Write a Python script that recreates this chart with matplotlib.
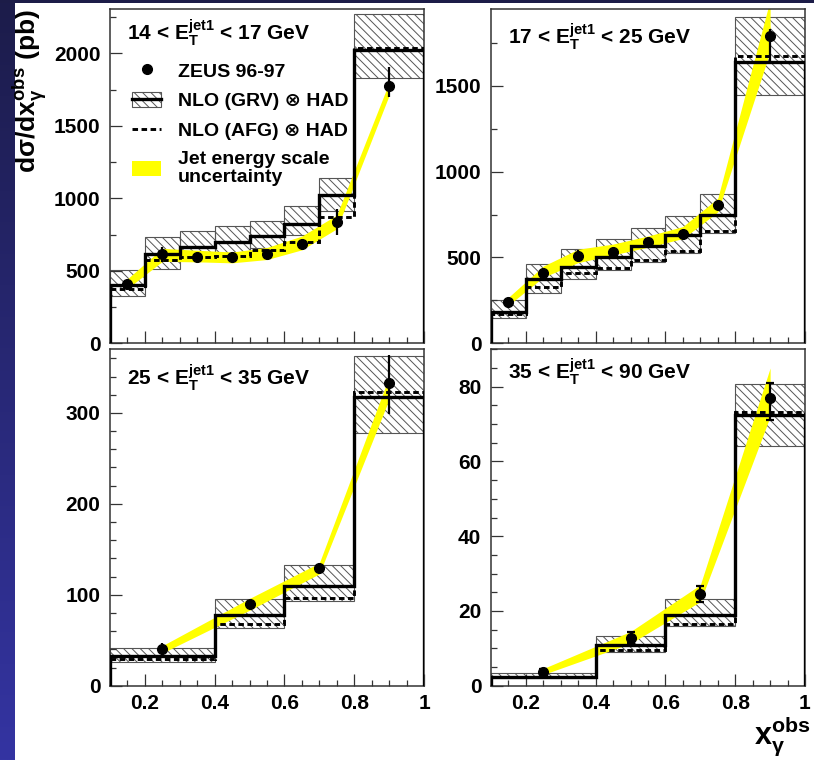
import matplotlib
matplotlib.use('Agg')
import matplotlib.pyplot as plt
import numpy as np
from matplotlib.lines import Line2D
from matplotlib.patches import Patch, Rectangle
from matplotlib.ticker import MultipleLocator, FuncFormatter
from matplotlib.colors import LinearSegmentedColormap

plt.rcParams['font.family'] = ['Liberation Sans', 'DejaVu Sans']
plt.rcParams['font.weight'] = 'bold'
plt.rcParams['mathtext.fontset'] = 'custom'
plt.rcParams['mathtext.rm'] = 'Liberation Sans:bold'
plt.rcParams['mathtext.it'] = 'Liberation Sans:bold'
plt.rcParams['mathtext.bf'] = 'Liberation Sans:bold'
plt.rcParams['mathtext.sf'] = 'Liberation Sans:bold'
plt.rcParams['hatch.linewidth'] = 0.7

# ---------------- data ----------------
edges_fine = [0.1, 0.2, 0.3, 0.4, 0.5, 0.6, 0.7, 0.8, 1.0]
edges_coarse = [0.1, 0.4, 0.6, 0.8, 1.0]
x_fine = [0.15, 0.25, 0.35, 0.45, 0.55, 0.65, 0.75, 0.9]
x_coarse = [0.25, 0.5, 0.7, 0.9]

# 14 < ET < 17 GeV
p1_grv = [405, 615, 662, 700, 741, 826, 1021, 2025]
p1_grv_lo = [323, 516, 575, 619, 658, 745, 915, 1831]
p1_grv_hi = [509, 736, 773, 809, 844, 947, 1141, 2275]
p1_afg = [378, 573, 592, 600, 642, 699, 871, 2035]
p1_data = [408, 614, 596, 592, 614, 688, 835, 1778]
p1_err_lo = [20, 50, 25, 20, 25, 30, 90, 80]
p1_err_hi = [20, 50, 25, 20, 25, 30, 90, 130]
p1_jes_lo = [378, 565, 562, 555, 578, 645, 790, 1710]
p1_jes_hi = [445, 655, 642, 630, 661, 740, 885, 1800]

# 17 < ET < 25 GeV
p2_grv = [184, 372, 445, 500, 566, 630, 746, 1641]
p2_grv_lo = [145, 291, 372, 426, 474, 527, 643, 1444]
p2_grv_hi = [252, 461, 548, 610, 672, 742, 868, 1899]
p2_afg = [170, 326, 407, 436, 488, 538, 655, 1676]
p2_data = [242, 411, 509, 533, 591, 636, 804, 1787]
p2_err_lo = [15, 25, 35, 20, 20, 20, 30, 150]
p2_err_hi = [15, 25, 35, 20, 20, 20, 30, 45]
p2_jes_lo = [222, 385, 470, 515, 560, 610, 765, 1700]
p2_jes_hi = [268, 450, 548, 578, 625, 680, 845, 2000]

# 25 < ET < 35 GeV
p3_grv = [32.6, 77.6, 109.8, 317]
p3_grv_lo = [26, 64, 93, 278]
p3_grv_hi = [42, 95, 132.5, 363]
p3_afg = [29, 67.7, 97, 323.5]
p3_data = [40, 90.4, 130, 332.6]
p3_err_lo = [7, 3, 3, 34]
p3_err_hi = [7, 3, 3, 31]
p3_jes_lo = [36, 83, 123, 315]
p3_jes_hi = [44, 96, 135, 340]

# 35 < ET < 90 GeV
p4_grv = [2.4, 10.85, 19.0, 72.4]
p4_grv_lo = [2.0, 8.9, 16.0, 64.2]
p4_grv_hi = [3.5, 13.25, 23.1, 80.8]
p4_afg = [2.2, 9.5, 16.6, 73.3]
p4_data = [3.7, 12.8, 24.6, 77.0]
p4_err_lo = [0.8, 1.5, 2.2, 6]
p4_err_hi = [0.8, 1.5, 2.2, 4]
p4_jes_lo = [3.0, 11.3, 22.5, 72]
p4_jes_hi = [4.6, 14.5, 27.0, 85]

titles = [r'14 < $\mathrm{E}_\mathrm{T}^\mathrm{jet1}$ < 17 GeV',
          r'17 < $\mathrm{E}_\mathrm{T}^\mathrm{jet1}$ < 25 GeV',
          r'25 < $\mathrm{E}_\mathrm{T}^\mathrm{jet1}$ < 35 GeV',
          r'35 < $\mathrm{E}_\mathrm{T}^\mathrm{jet1}$ < 90 GeV']
ylims = [2310, 1950, 370, 90]
ymajor = [500, 500, 100, 20]
yminor = [250, 250, 20, 5]

panels = [
    (edges_fine, x_fine, p1_grv, p1_grv_lo, p1_grv_hi, p1_afg, p1_data, p1_err_lo, p1_err_hi, p1_jes_lo, p1_jes_hi),
    (edges_fine, x_fine, p2_grv, p2_grv_lo, p2_grv_hi, p2_afg, p2_data, p2_err_lo, p2_err_hi, p2_jes_lo, p2_jes_hi),
    (edges_coarse, x_coarse, p3_grv, p3_grv_lo, p3_grv_hi, p3_afg, p3_data, p3_err_lo, p3_err_hi, p3_jes_lo, p3_jes_hi),
    (edges_coarse, x_coarse, p4_grv, p4_grv_lo, p4_grv_hi, p4_afg, p4_data, p4_err_lo, p4_err_hi, p4_jes_lo, p4_jes_hi),
]

# ---------------- figure ----------------
W, H = 814, 760
fig = plt.figure(figsize=(W / 100, H / 100), dpi=100)
fig.patch.set_facecolor('white')

# background decoration (blue strips)
bg = fig.add_axes([0, 0, 15 / W, 1], zorder=-10)
cmap = LinearSegmentedColormap.from_list('bgc', ['#3434a2', '#1c1c4a'])
bg.imshow(np.linspace(0, 1, 256)[:, None], aspect='auto', cmap=cmap,
          origin='lower', extent=[0, 1, 0, 1])
bg.axis('off')
fig.patches.append(Rectangle((0, 1 - 2.5 / H), 1, 2.5 / H, transform=fig.transFigure,
                             facecolor='#1c1c48', edgecolor='none', zorder=-9))

lefts = [110, 491, 110, 491]
tops = [8.5, 8.5, 349.3, 349.3]
bottoms = [343.3, 343.3, 685.7, 685.7]
aw = 314
title_y = [0.905, 0.895, 0.893, 0.913]

hatch = '\\\\\\\\'
hatch_col = '#555555'
dash = (0, (1.9, 1.2))

axes = []
for i, (edges, xc, grv, glo, ghi, afg, dat, elo, ehi, jlo, jhi) in enumerate(panels):
    ax = fig.add_axes([lefts[i] / W, 1 - bottoms[i] / H, aw / W, (bottoms[i] - tops[i]) / H])
    axes.append(ax)
    edges = np.array(edges)
    widths = np.diff(edges)
    ghi_a = np.array(ghi)
    glo_a = np.array(glo)
    ax.bar(edges[:-1], ghi_a - glo_a, bottom=glo_a, width=widths, align='edge',
           fill=False, hatch=hatch, edgecolor=hatch_col, linewidth=0.8, zorder=1)
    ax.fill_between(xc, jlo, jhi, color='#ffff00', linewidth=0, zorder=2)
    ax.stairs(grv, edges, baseline=0, color='black', linewidth=2.4, zorder=3)
    ax.stairs(afg, edges, baseline=0, color='black', linewidth=2.1, linestyle=dash, zorder=3)
    ax.errorbar(xc, dat, yerr=[elo, ehi], fmt='o', color='black', markersize=7,
                elinewidth=1.6, capsize=(3 if i == 3 else 0), capthick=1.6, zorder=4)

    ax.set_xlim(0.1, 1.0)
    ax.set_ylim(0, ylims[i])
    ax.xaxis.set_major_locator(MultipleLocator(0.2))
    ax.xaxis.set_minor_locator(MultipleLocator(0.05))
    ax.yaxis.set_major_locator(MultipleLocator(ymajor[i]))
    ax.yaxis.set_minor_locator(MultipleLocator(yminor[i]))
    ax.xaxis.set_major_formatter(FuncFormatter(lambda v, p: '%g' % round(v, 2)))
    ax.yaxis.set_major_formatter(FuncFormatter(lambda v, p: '%g' % v))
    ax.tick_params(which='both', direction='in', top=False, right=False,
                   color='#333333', width=0.9, labelsize=15)
    ax.tick_params(which='major', length=8.5)
    ax.tick_params(which='minor', length=4.3)
    ax.tick_params(axis='y', pad=7)
    ax.tick_params(axis='x', pad=6)
    if i < 2:
        ax.tick_params(axis='x', labelbottom=False)
    for s in ax.spines.values():
        s.set_color('#333333')
        s.set_linewidth(1.1)
    ax.text(0.054, title_y[i], titles[i], transform=ax.transAxes, fontsize=15,
            fontweight='bold', ha='left', va='baseline', zorder=6)

# legend in first panel
h_data = Line2D([], [], marker='o', color='black', linestyle='none', markersize=7)
h_grv = (Patch(facecolor='none', edgecolor=hatch_col, hatch=hatch, linewidth=0.8),
         Line2D([], [], color='black', linewidth=2.4))
h_afg = Line2D([], [], color='black', linewidth=2.1, linestyle=dash)
h_jes = Patch(facecolor='#ffff00', edgecolor='none')
leg = axes[0].legend([h_data, h_grv, h_afg, h_jes],
                     ['ZEUS 96-97', 'NLO (GRV) ⊗ HAD', 'NLO (AFG) ⊗ HAD',
                      'Jet energy scale\nuncertainty'],
                     loc='upper left', bbox_to_anchor=(0.07, 0.84), frameon=False,
                     fontsize=14, handlelength=1.5, handleheight=0.85,
                     handletextpad=0.85, labelspacing=0.58, borderpad=0,
                     borderaxespad=0)
for t in leg.get_texts():
    t.set_fontweight('bold')
    t.set_linespacing(1.05)

# axis labels
fig.text(30 / W, 1 - 9 / H, 'dσ/dx$_\\gamma^\\mathrm{obs}$ (pb)', rotation=90,
         ha='center', va='top', fontsize=19, fontweight='bold')
fig.text(810 / W, (H - 743) / H, 'x$_\\gamma^\\mathrm{obs}$', ha='right', va='baseline',
         fontsize=22, fontweight='bold')

fig.savefig('out.png', dpi=100, facecolor='white')
